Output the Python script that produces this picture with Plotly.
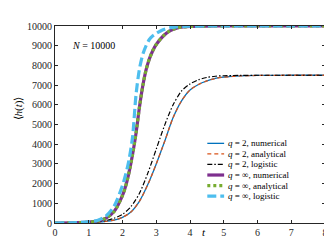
import plotly.graph_objects as go

# ---------------- data ----------------
t_q2 = [0, 0.5, 1.0, 1.25, 1.5, 1.75, 2.0, 2.25, 2.5, 2.75, 3.0, 3.25, 3.5,
        3.75, 4.0, 4.25, 4.5, 4.75, 5.0, 5.5, 6.0, 7.0, 8.0]
q2_numerical = [1, 5, 20, 40, 78, 150, 290, 560, 1100, 1950, 3000, 4150, 5350,
                6200, 6750, 7030, 7210, 7340, 7400, 7465, 7490, 7500, 7500]
q2_analytical = [1, 5, 20, 40, 78, 150, 290, 560, 1100, 1950, 3000, 4150, 5350,
                 6200, 6750, 7030, 7210, 7340, 7400, 7465, 7490, 7500, 7500]
q2_logistic = [2, 8, 30, 60, 120, 240, 440, 830, 1500, 2530, 3750, 4970, 6000,
               6700, 7060, 7270, 7390, 7450, 7475, 7494, 7499, 7500, 7500]

t_qinf = [0, 0.5, 1.0, 1.25, 1.5, 1.75, 2.0, 2.1, 2.2, 2.3, 2.4, 2.5, 2.6, 2.7,
          2.8, 2.9, 3.0, 3.2, 3.4, 3.6, 3.8, 4.0, 4.5, 5.0, 6.0, 7.0, 8.0]
qinf_numerical = [1, 6, 40, 100, 239, 580, 1400, 1911, 2620, 3500, 4550, 5850,
                  6950, 7780, 8350, 8760, 9060, 9480, 9750, 9890, 9950, 9978,
                  9996, 10000, 10000, 10000, 10000]
qinf_analytical = [1, 6, 40, 100, 239, 580, 1400, 1911, 2620, 3500, 4550, 5850,
                   6950, 7780, 8350, 8760, 9060, 9480, 9750, 9890, 9950, 9978,
                   9996, 10000, 10000, 10000, 10000]
qinf_logistic = [1, 10, 60, 130, 340, 850, 1911, 2500, 3270, 4400, 6500, 7800,
                 8550, 9000, 9330, 9500, 9620, 9810, 9910, 9960, 9985, 9995,
                 10000, 10000, 10000, 10000, 10000]

x_ticks = [0, 1, 2, 3, 4, 5, 6, 7, 8]
y_ticks = [0, 1000, 2000, 3000, 4000, 5000, 6000, 7000, 8000, 9000, 10000]

legend_labels = ["<i>q</i> = 2, numerical", "<i>q</i> = 2, analytical",
                 "<i>q</i> = 2, logistic", "<i>q</i> = ∞, numerical",
                 "<i>q</i> = ∞, analytical", "<i>q</i> = ∞, logistic"]

# ---------------- styles ----------------
FONT = "Liberation Serif"
styles = [
    dict(color="#0072BD", width=1.3, dash="solid"),
    dict(color="#D95319", width=1.3, dash="4px,3px"),
    dict(color="#000000", width=1.2, dash="5px,2px,1.5px,2px"),
    dict(color="#7E2F8E", width=3.2, dash="solid"),
    dict(color="#77AC30", width=3.2, dash="3px,3px"),
    dict(color="#4DBEEE", width=3.2, dash="9px,4px"),
]
series = [
    (t_q2, q2_numerical), (t_q2, q2_analytical), (t_q2, q2_logistic),
    (t_qinf, qinf_numerical), (t_qinf, qinf_analytical), (t_qinf, qinf_logistic),
]

fig = go.Figure()
for (tx, vy), st, name in zip(series, styles, legend_labels):
    fig.add_trace(go.Scatter(
        x=tx, y=vy, mode="lines", name=name, showlegend=False,
        line=dict(color=st["color"], width=st["width"], dash=st["dash"],
                  shape="spline", smoothing=0.8),
        cliponaxis=True,
    ))

L, R, T, B = 47, 12, 13, 20
W, H = 332, 242
pw, ph = W - L - R, H - T - B


def px_x(px):
    return (px - L) / pw


def px_y(py):
    return (H - B - py) / ph


# manual legend
shapes = []
annotations = []
row0, drow = 137.5, 11.2
for i, (st, lab) in enumerate(zip(styles, legend_labels)):
    yy = px_y(row0 + i * drow)
    shapes.append(dict(type="line", xref="paper", yref="paper",
                       x0=px_x(201), x1=px_x(218), y0=yy, y1=yy,
                       line=dict(color=st["color"], width=st["width"],
                                 dash=st["dash"])))
    annotations.append(dict(xref="paper", yref="paper", x=px_x(219.5), y=yy,
                            xanchor="left", yanchor="middle", text=lab,
                            showarrow=False,
                            font=dict(family=FONT, size=9, color="black")))

annotations.append(dict(xref="x", yref="y", x=0.45, y=9000, xanchor="left",
                        yanchor="middle", text="<i>N</i> = 10000",
                        showarrow=False,
                        font=dict(family=FONT, size=10, color="black")))
annotations.append(dict(xref="x", yref="paper", x=4.4, y=px_y(232),
                        xanchor="center", yanchor="middle", text="<i>t</i>",
                        showarrow=False,
                        font=dict(family=FONT, size=11, color="black")))
annotations.append(dict(xref="paper", yref="paper", x=px_x(10), y=px_y(100),
                        xanchor="center", yanchor="middle",
                        text="⟨<i>h</i>(<i>t</i>)⟩", textangle=-90,
                        showarrow=False,
                        font=dict(family=FONT, size=11, color="black")))

axis_common = dict(showgrid=False, zeroline=False, showline=True,
                   linecolor="#262626", linewidth=1, mirror="ticks",
                   ticks="inside", ticklen=3, tickwidth=0.8,
                   tickcolor="#262626", tickformat="d",
                   tickfont=dict(family=FONT, size=10, color="#262626"))

fig.update_layout(
    width=W, height=H,
    margin=dict(l=L, r=R, t=T, b=B, pad=0),
    paper_bgcolor="white", plot_bgcolor="white",
    xaxis=dict(range=[0, 8], tickvals=x_ticks, **axis_common),
    yaxis=dict(range=[0, 10000], tickvals=y_ticks, **axis_common),
    shapes=shapes, annotations=annotations,
    showlegend=False,
)

fig.write_html("out.html")
